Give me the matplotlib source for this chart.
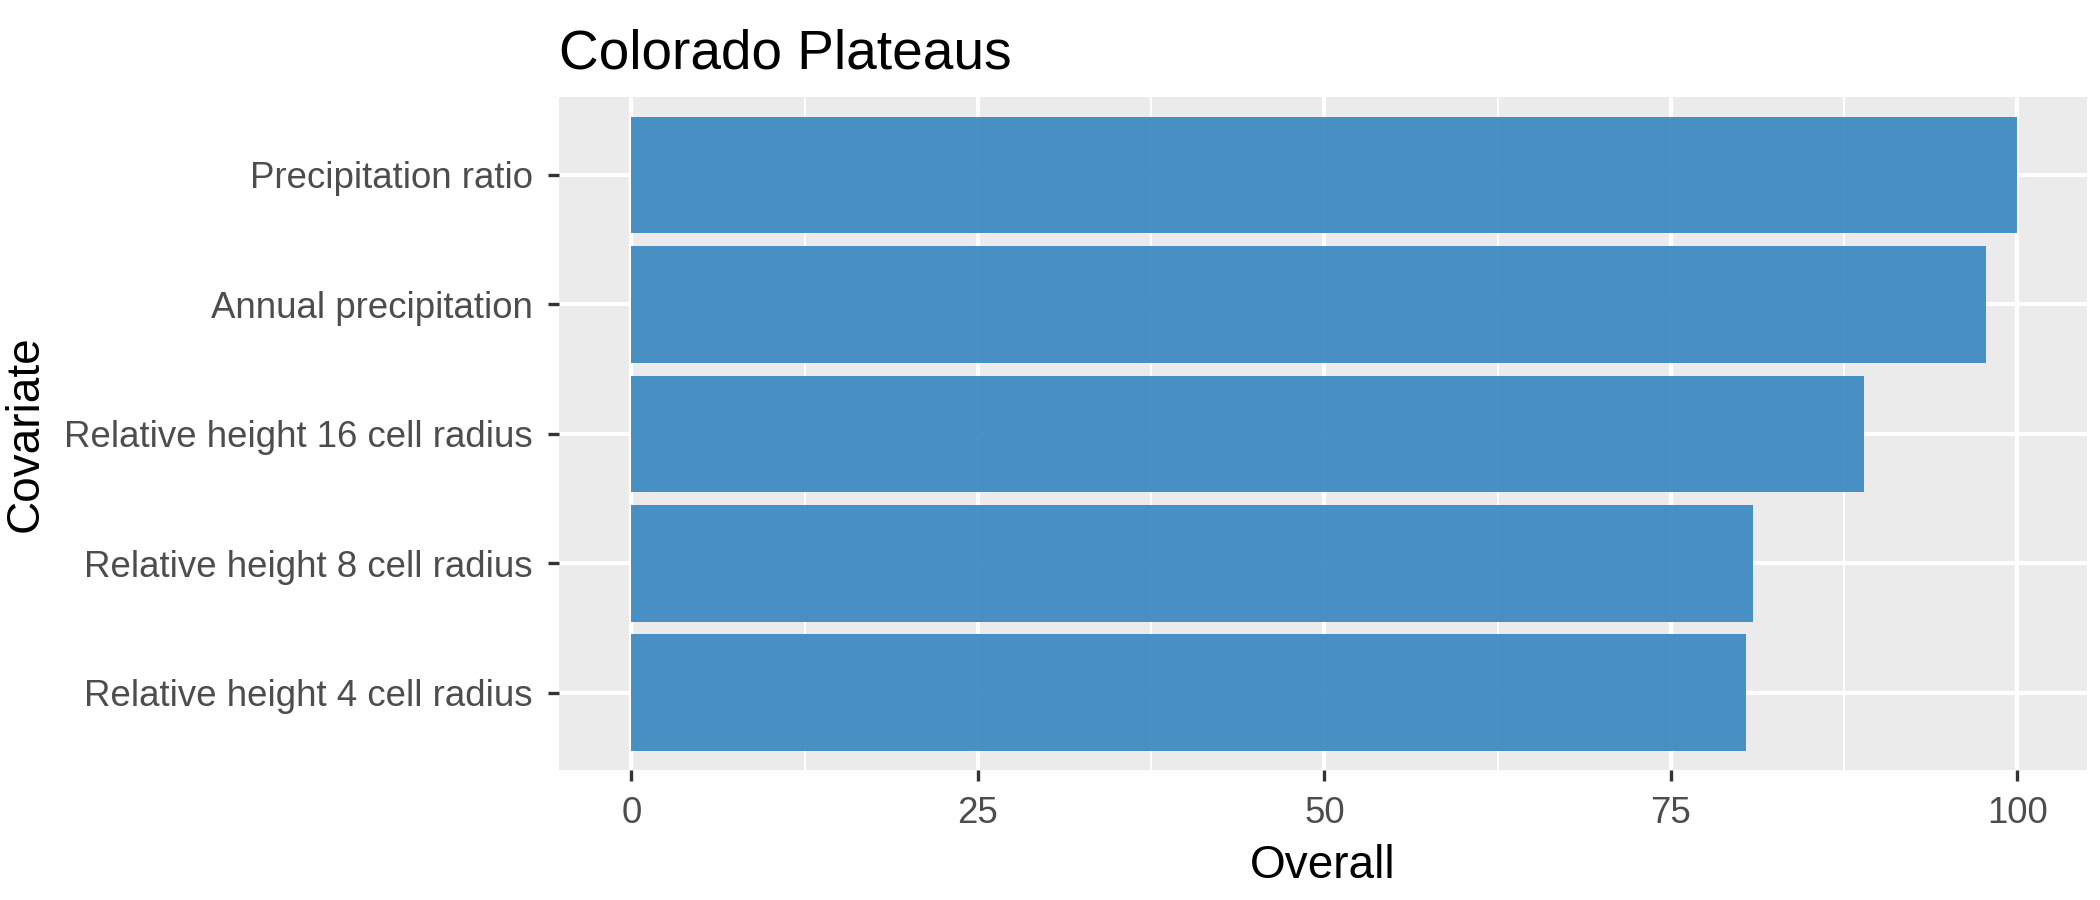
import matplotlib
matplotlib.use("Agg")
import matplotlib.pyplot as plt

covariates = ["Relative height 4 cell radius", "Relative height 8 cell radius",
              "Relative height 16 cell radius", "Annual precipitation", "Precipitation ratio"]
overall = [80.4, 80.9, 88.9, 97.7, 100.0]
xticks = [0, 25, 50, 75, 100]

plt.rcParams['font.family'] = ['Liberation Sans', 'DejaVu Sans']
fig = plt.figure(figsize=(7, 3), dpi=300)
ax = fig.add_axes([0.266, 0.144, 0.728, 0.748])
ax.set_facecolor("#EBEBEB")
ax.barh(range(len(covariates)), overall, height=0.9, color="#3A87C0", alpha=0.92, zorder=3)
ax.set_xlim(-5.25, 105.05)
ax.set_ylim(-0.6, 4.6)
ax.set_xticks(xticks)
ax.set_xticks([12.5, 37.5, 62.5, 87.5], minor=True)
ax.set_yticks(range(len(covariates)))
ax.set_yticklabels(covariates)
ax.grid(True, which="major", color="white", lw=1.0, zorder=0)
ax.grid(True, which="minor", axis="x", color="white", lw=0.5, zorder=0)
ax.tick_params(which="major", length=2.7, width=0.8, color="#333333", labelsize=8.8, labelcolor="#4D4D4D")
ax.tick_params(which="minor", length=0)
for s in ax.spines.values():
    s.set_visible(False)
ax.set_xlabel("Overall", fontsize=11, labelpad=3)
ax.set_ylabel("Covariate", fontsize=11)
ax.set_title("Colorado Plateaus", fontsize=13.2, loc="left", pad=7)
fig.savefig("out.png")
